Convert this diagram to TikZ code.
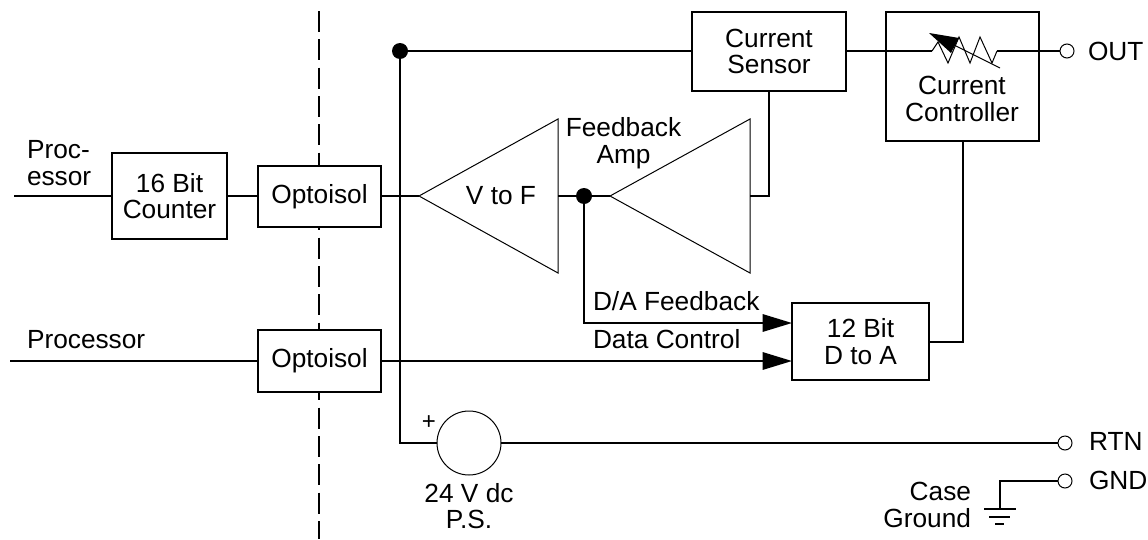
\documentclass[tikz,border=0pt]{standalone}
\usepackage{fontspec}
\setmainfont{Liberation Sans}
\usetikzlibrary{arrows.meta}
\tikzset{
  x=0.75pt,y=-0.75pt,
  wire/.style={line width=1.5pt,line cap=butt,line join=miter},
  hair/.style={line width=0.75pt,line join=miter},
  blockbox/.style 2 args={draw,line width=1.6pt,inner sep=0pt,outer sep=0pt,align=center,minimum width=#1*0.75pt,minimum height=#2*0.75pt,font=\lbl},
  lbl/.style={inner sep=0pt,outer sep=0pt,font=\lbl},
  dot/.style={circle,fill=black,inner sep=0pt,minimum size=16*0.75pt},
  term/.style={circle,draw,fill=white,line width=0.75pt,inner sep=0pt,outer sep=0pt,minimum size=14*0.75pt},
  source/.style={circle,draw,line width=0.75pt,inner sep=0pt,outer sep=0pt,minimum size=64*0.75pt},
  arrowwire/.style={wire,-{Triangle[length=22pt,width=13pt]}},
}
\newcommand{\lbl}{\fontsize{19.7pt}{20pt}\selectfont}
\begin{document}
\begin{tikzpicture}
\useasboundingbox (0,0) rectangle (1148,539);
% isolation line
\coordinate (isotop) at (318.5,11);
\coordinate (isobot) at (318.5,539);
\draw[line width=1.5pt,dash pattern=on 15.75pt off 5.5pt] (isotop) -- (isobot);
% blocks
\node[blockbox={115}{86}] (cnt) at (169.5,196) {16 Bit\\Counter};
\node[blockbox={123}{61},fill=white] (opa) at (319.5,196.5) {Optoisol};
\node[blockbox={123}{62},fill=white] (opb) at (319.5,361) {Optoisol};
\node[blockbox={154}{79}] (sens) at (769,51.5) {Current\\Sensor};
\node[blockbox={153}{129}] (ctrl) at (962.5,76.5) {};
\node[lbl,align=center] (ctrltxt) at (962,99) {Current\\Controller};
\node[blockbox={137}{77}] (dac) at (860.5,341.5) {12 Bit\\D to A};
% triangles
\coordinate (vfin) at (419,196); \coordinate (vfout) at (558,196);
\coordinate (fbin) at (750,196); \coordinate (fbout) at (610,196);
\draw[hair] (vfin) -- (558,119) -- (558,273) -- cycle;
\draw[hair] (fbout) -- (750,119) -- (750,273) -- cycle;
\node[lbl] (vf) at (501,196) {V to F};
\node[lbl,align=center] (fbl) at (623.5,143) {Feedback\\Amp};
% input wires
\coordinate (pa) at (14,196);
\coordinate (pb) at (10,361);
\draw[wire] (pa) -- (cnt.west);
\draw[wire] (cnt.east) -- (opa.west |- cnt.east);
\draw[wire] (opa.east |- vfin) -- (vfin);
\draw[wire] (pb) -- (opb.west);
\draw[arrowwire] (opb.east) -- (opb.east -| dac.west);
% feedback node
\node[dot] (jfb) at (584,196) {};
\draw[wire] (vfout) -- (fbout);
\draw[arrowwire] (jfb.center) |- (792,323);
% sensor to amp
\draw[wire] (sens.south) |- (fbin);
% supply
\node[dot] (jsup) at (400,51) {};
\node[source] (ps) at (469,443) {};
\draw[wire] (jsup.center) -- (jsup.center -| sens.west);
\draw[wire] (jsup.center) |- (ps.west);
% RTN
\node[term] (rtn) at (1065,443) {};
\draw[wire] (ps.east) -- (rtn.west);
% GND
\node[term] (gnd) at (1065,481) {};
\coordinate (g1) at (999.5,509);
\draw[wire] (gnd.west) -| (g1);
\draw[wire] (984,509) -- (1016,509);
\draw[wire] (989,517) -- (1010,517);
\draw[wire] (995,524) -- (1004,524);
% controller to D/A
\draw[wire] (ctrl.south) |- (dac.east);
% OUT and variable resistor
\node[term] (out) at (1067,51) {};
\coordinate (ra) at (932,51);
\coordinate (rb) at (997,51);
\draw[wire] (sens.east |- ra) -- (ra);
\draw[wire] (rb) -- (out.west);
\draw[hair] (ra) -- (938,42) -- (948,63) -- (959,37) -- (970,63) -- (980,37) -- (992,63) -- (rb);
\draw[hair] (950,43) -- (1000,68);
\fill (929,33) -- (959,38) -- (951,53) -- cycle;
% labels
\node[lbl,anchor=base west] (l1) at (27,158.5) {Proc-};
\node[lbl,anchor=base west] (l2) at (27,185) {essor};
\node[lbl,anchor=base west] (l3) at (27,348) {Processor};
\node[lbl,anchor=base west] (l4) at (593,310) {D/A Feedback};
\node[lbl,anchor=base west] (l5) at (593,348) {Data Control};
\node[lbl,anchor=west] (l6) at (1088,51) {OUT};
\node[lbl,anchor=west] (l7) at (1089,441) {RTN};
\node[lbl,anchor=west] (l8) at (1089,480) {GND};
\node[lbl,align=right,anchor=east] (l9) at (971,505) {Case\\Ground};
\node[lbl,align=center] (l10) at (469,506) {24 V dc\\P.S.};
\node[inner sep=0pt,font=\fontsize{18pt}{18pt}\selectfont] (l11) at (429,423) {+};
\end{tikzpicture}
\end{document}
